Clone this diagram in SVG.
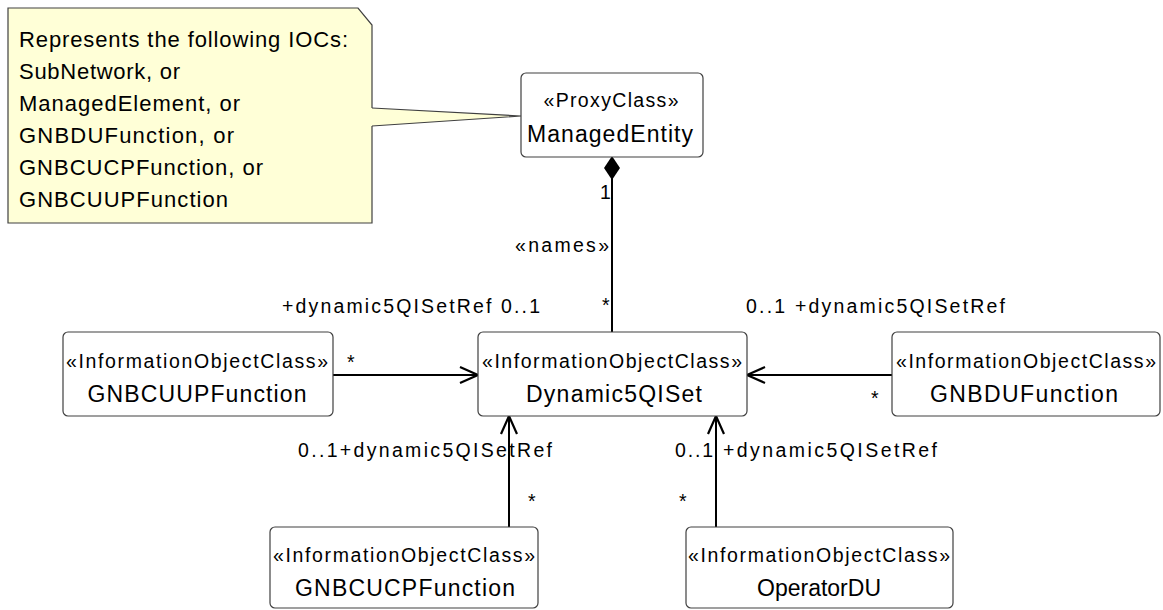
<svg xmlns="http://www.w3.org/2000/svg" width="1163" height="610" viewBox="0 0 1163 610">
<style>
text{font-family:"Liberation Sans",Arial,sans-serif;fill:#000}
.st{font-size:19.5px}
.nm{font-size:23px}
.lb{font-size:19.5px}
.nt{font-size:22px}
.box{fill:#fff;stroke:#404040;stroke-width:1.2}
.ln{fill:none;stroke:#000;stroke-width:2}
</style>
<defs>
<marker id="open" viewBox="0 0 20 20" refX="19" refY="10" markerWidth="20" markerHeight="20" orient="auto" markerUnits="userSpaceOnUse">
<path d="M1,2 L19,10 L1,18" fill="none" stroke="#000" stroke-width="2.2"/>
</marker>
</defs>
<rect width="1163" height="610" fill="#fff"/>

<g id="note">
<path d="M8,8 H358 L372,25 V223 H8 Z" fill="#FFFFD7"/>
<polygon points="371,108 521,116 371,126" fill="#FFFFD7"/>
<path d="M372,108 V25 L358,8 H8 V223 H372 V126" fill="none" stroke="#404040" stroke-width="1.2"/>
<path d="M372,108 L521,116 L372,126" fill="none" stroke="#404040" stroke-width="1.2"/>
<text class="nt" x="19" y="47" textLength="329" lengthAdjust="spacing">Represents the following IOCs:</text>
<text class="nt" x="19" y="79" textLength="161" lengthAdjust="spacing">SubNetwork, or</text>
<text class="nt" x="19" y="111" textLength="221" lengthAdjust="spacing">ManagedElement, or</text>
<text class="nt" x="19" y="143" textLength="215" lengthAdjust="spacing">GNBDUFunction, or</text>
<text class="nt" x="19" y="175" textLength="244" lengthAdjust="spacing">GNBCUCPFunction, or</text>
<text class="nt" x="19" y="207" textLength="209" lengthAdjust="spacing">GNBCUUPFunction</text>
</g>

<g id="connectors">
<line class="ln" x1="612" y1="178" x2="612" y2="332"/>
<polygon points="612,156 620,168 612,180 604,168" fill="#000"/>
<line class="ln" x1="333" y1="375" x2="478" y2="375" marker-end="url(#open)"/>
<line class="ln" x1="892" y1="375" x2="747" y2="375" marker-end="url(#open)"/>
<line class="ln" x1="509" y1="527" x2="509" y2="416" marker-end="url(#open)"/>
<line class="ln" x1="716" y1="527" x2="716" y2="416" marker-end="url(#open)"/>
<text class="lb" x="600" y="199">1</text>
<text class="lb" x="515" y="252" textLength="94" lengthAdjust="spacing">«names»</text>
<text class="lb" x="602" y="312">*</text>
<text class="lb" x="282" y="313" textLength="258" lengthAdjust="spacing">+dynamic5QISetRef 0..1</text>
<text class="lb" x="347" y="369">*</text>
<text class="lb" x="746" y="313" textLength="259" lengthAdjust="spacing">0..1 +dynamic5QISetRef</text>
<text class="lb" x="871" y="405">*</text>
<text class="lb" x="298" y="457" textLength="254" lengthAdjust="spacing">0..1+dynamic5QISetRef</text>
<text class="lb" x="528" y="508">*</text>
<text class="lb" x="675" y="457" textLength="38" lengthAdjust="spacing">0..1</text>
<text class="lb" x="723" y="457" textLength="214" lengthAdjust="spacing">+dynamic5QISetRef</text>
<text class="lb" x="679" y="508">*</text>
</g>

<g id="ManagedEntity">
<rect class="box" x="521" y="73" width="182" height="84" rx="5"/>
<text class="st" x="611" y="107" text-anchor="middle" textLength="135" lengthAdjust="spacing">«ProxyClass»</text>
<text class="nm" x="610" y="142" text-anchor="middle" textLength="166" lengthAdjust="spacing">ManagedEntity</text>
</g>

<g id="Dynamic5QISet">
<rect class="box" x="478" y="332" width="269" height="84" rx="5"/>
<text class="st" x="612" y="368" text-anchor="middle" textLength="260" lengthAdjust="spacing">«InformationObjectClass»</text>
<text class="nm" x="614" y="402" text-anchor="middle" textLength="176" lengthAdjust="spacing">Dynamic5QISet</text>
</g>

<g id="GNBCUUPFunction">
<rect class="box" x="63" y="332" width="270" height="84" rx="5"/>
<text class="st" x="197" y="368" text-anchor="middle" textLength="262" lengthAdjust="spacing">«InformationObjectClass»</text>
<text class="nm" x="197" y="402" text-anchor="middle" textLength="219" lengthAdjust="spacing">GNBCUUPFunction</text>
</g>

<g id="GNBDUFunction">
<rect class="box" x="892" y="332" width="268" height="84" rx="5"/>
<text class="st" x="1026" y="368" text-anchor="middle" textLength="260" lengthAdjust="spacing">«InformationObjectClass»</text>
<text class="nm" x="1024" y="402" text-anchor="middle" textLength="188" lengthAdjust="spacing">GNBDUFunction</text>
</g>

<g id="GNBCUCPFunction">
<rect class="box" x="270" y="527" width="268" height="81" rx="5"/>
<text class="st" x="404" y="562" text-anchor="middle" textLength="262" lengthAdjust="spacing">«InformationObjectClass»</text>
<text class="nm" x="405" y="596" text-anchor="middle" textLength="220" lengthAdjust="spacing">GNBCUCPFunction</text>
</g>

<g id="OperatorDU">
<rect class="box" x="686" y="527" width="267" height="81" rx="5"/>
<text class="st" x="819" y="562" text-anchor="middle" textLength="262" lengthAdjust="spacing">«InformationObjectClass»</text>
<text class="nm" x="819" y="596" text-anchor="middle" textLength="124" lengthAdjust="spacing">OperatorDU</text>
</g>
</svg>
